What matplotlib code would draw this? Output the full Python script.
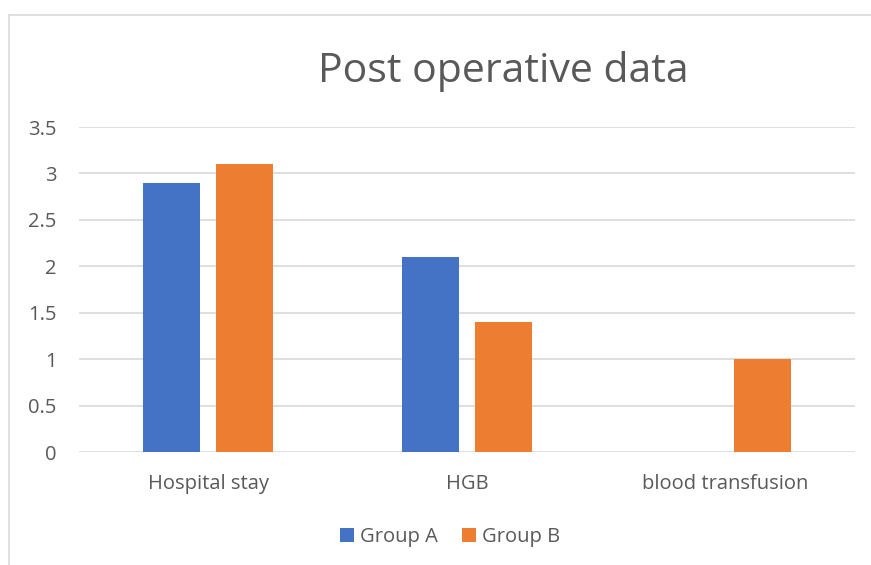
import numpy as np
import matplotlib
matplotlib.use("Agg")
import matplotlib.pyplot as plt
from matplotlib.lines import Line2D

# Dati del grafico
categories = ['Hospital stay', 'HGB', 'blood transfusion']
group_a = [2.9, 2.1, 0]
group_b = [3.1, 1.4, 1.0]
yticks = [0, 0.5, 1, 1.5, 2, 2.5, 3, 3.5]
ytick_labels = ['0', '0.5', '1', '1.5', '2', '2.5', '3', '3.5']

blue = '#4472C4'
orange = '#ED7D31'
text_col = '#595959'
grid_col = '#D9D9D9'

plt.rcParams['font.family'] = ['Open Sans', 'DejaVu Sans']

fig = plt.figure(figsize=(8.71, 5.65), dpi=100)
ax = fig.add_axes([79 / 871, 113 / 565, (855 - 79) / 871, (452 - 127) / 565])

x = np.arange(len(categories))
width = 0.22
offset = 0.141
ax.bar(x - offset, group_a, width, color=blue, label='Group A', zorder=3)
ax.bar(x + offset, group_b, width, color=orange, label='Group B', zorder=3)

ax.set_xlim(-0.5, len(categories) - 0.5)
ax.set_ylim(0, 3.5)
ax.set_yticks(yticks)
ax.set_yticklabels(ytick_labels)
ax.set_xticks(x)
ax.set_xticklabels(categories)
ax.tick_params(axis='both', length=0, labelsize=14.5, colors=text_col)
ax.tick_params(axis='y', pad=16)
ax.tick_params(axis='x', pad=16)

ax.yaxis.grid(True, color=grid_col, linewidth=1.2, zorder=0)
for s in ax.spines.values():
    s.set_visible(False)

# titolo
fig.text(503 / 871, 1 - 72 / 565, 'Post operative data', ha='center', va='center',
         fontsize=29.5, color=text_col)

# legenda in basso
fig.legend(loc='center', bbox_to_anchor=(450 / 871, 1 - 537 / 565), ncol=2, frameon=False,
           fontsize=14.5, labelcolor=text_col, handlelength=0.7, handleheight=0.7,
           handletextpad=0.3, columnspacing=1.2)

# bordo del grafico (tagliato)
fig.add_artist(Line2D([8.5 / 871, 8.5 / 871], [0, 1 - 14.5 / 565], transform=fig.transFigure,
                      color='#D9D9D9', linewidth=1.2))
fig.add_artist(Line2D([8.5 / 871, 1], [1 - 14.5 / 565, 1 - 14.5 / 565], transform=fig.transFigure,
                      color='#D9D9D9', linewidth=1.2))

fig.savefig('out.png', dpi=100)
